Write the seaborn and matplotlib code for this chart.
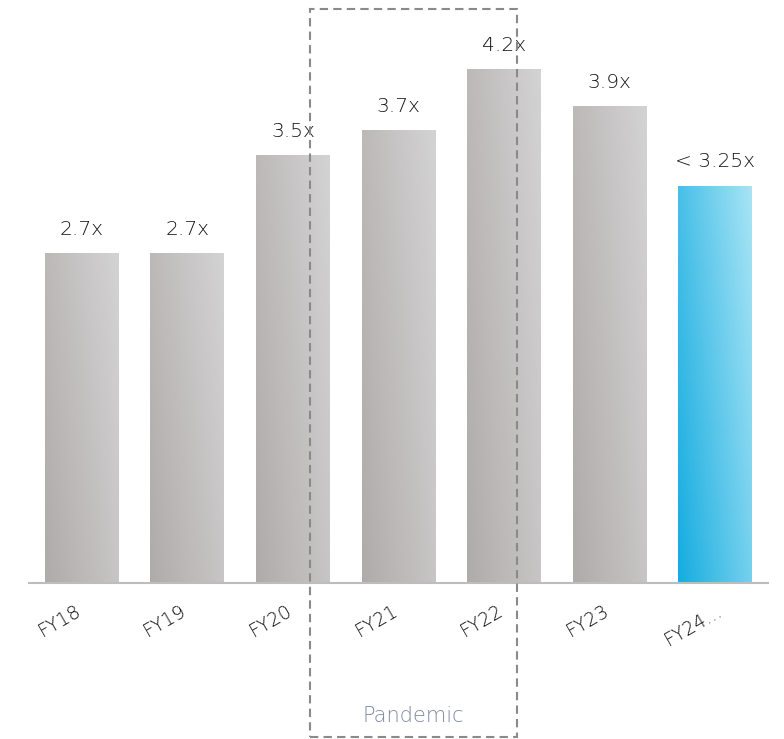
import numpy as np
import pandas as pd
import matplotlib
matplotlib.use("Agg")
import matplotlib.pyplot as plt
import matplotlib.transforms as mtransforms
from matplotlib.colors import LinearSegmentedColormap
from matplotlib.patches import Rectangle
import seaborn as sns

# Leverage multiple by fiscal year
years = ["FY18", "FY19", "FY20", "FY21", "FY22", "FY23", "FY24..."]
multiples = [2.7, 2.7, 3.5, 3.7, 4.2, 3.9, 3.25]
value_labels = ["2.7x", "2.7x", "3.5x", "3.7x", "4.2x", "3.9x", "< 3.25x"]
is_target = [False, False, False, False, False, False, True]
period_label = "Pandemic"

sns.set_theme(style="white")
plt.rcParams["font.family"] = ["DejaVu Sans"]

df = pd.DataFrame({"year": years, "multiple": multiples})

fig = plt.figure(figsize=(7.84, 7.39), dpi=100)
ax = fig.add_axes([29 / 784, 1 - 583 / 739, 739 / 784, 562.6 / 739])
sns.barplot(data=df, x="year", y="multiple", ax=ax, width=0.7,
            color="#c4c2c2", saturation=1)
ax.set_xlim(-0.5, 6.5)
ax.set_ylim(0, 4.6)

# Diagonal gradient fills clipped to each bar
grey_cmap = LinearSegmentedColormap.from_list("grey_grad", ["#afaba9", "#d4d3d4"])
blue_cmap = LinearSegmentedColormap.from_list("blue_grad", ["#15ace0", "#a8e4f5"])
uu, vv = np.meshgrid(np.linspace(0, 1, 120), np.linspace(0, 1, 240))
for patch, target in zip(ax.patches, is_target):
    x0, y0 = patch.get_x(), patch.get_y()
    w, h = patch.get_width(), patch.get_height()
    t = 0.65 * uu + 0.35 * vv
    im = ax.imshow(t, cmap=blue_cmap if target else grey_cmap, vmin=0, vmax=1,
                   extent=[x0, x0 + w, y0, y0 + h], origin="lower",
                   aspect="auto", zorder=patch.get_zorder(), interpolation="bilinear")
    im.set_clip_path(patch)
    patch.set_facecolor("none")
    patch.set_edgecolor("none")
ax.set_xlim(-0.5, 6.5)
ax.set_ylim(0, 4.6)

# Value labels above bars
for i, (v, lab) in enumerate(zip(multiples, value_labels)):
    ax.annotate(lab, (i, v), xytext=(0, 17), textcoords="offset points",
                ha="center", va="center", fontsize=14.5, color="#161616",
                fontweight="light")

# Axes styling
for side in ["left", "top", "right"]:
    ax.spines[side].set_visible(False)
ax.spines["bottom"].set_color("#bdbdbd")
ax.spines["bottom"].set_linewidth(1.5)
ax.set_yticks([])
ax.set_xlabel("")
ax.set_ylabel("")
ax.set_xticks(range(len(years)))
ax.set_xticklabels(years, rotation=30, ha="center", fontsize=13.5,
                   color="#0a0a0a", fontweight="light")
ax.tick_params(axis="x", length=0, pad=13)
shift = mtransforms.ScaledTranslation(-22 / 100, 0, fig.dpi_scale_trans)
for lbl in ax.get_xticklabels():
    lbl.set_transform(lbl.get_transform() + shift)

# Dashed box marking the pandemic years
box_left, box_right = 2.16, 4.12
box_bottom, box_top = -1.26, 4.69
ax.add_patch(Rectangle((box_left, box_bottom), box_right - box_left,
                       box_top - box_bottom, fill=False, linestyle=(0, (4, 2.5)),
                       linewidth=1.5, edgecolor="#8a8a8a", clip_on=False, zorder=5))
ax.text((box_left + box_right) / 2, -1.088, period_label, ha="center", va="center",
        fontsize=15, color="#7f8aa0", fontweight="light")

fig.savefig("out.png", dpi=100)
